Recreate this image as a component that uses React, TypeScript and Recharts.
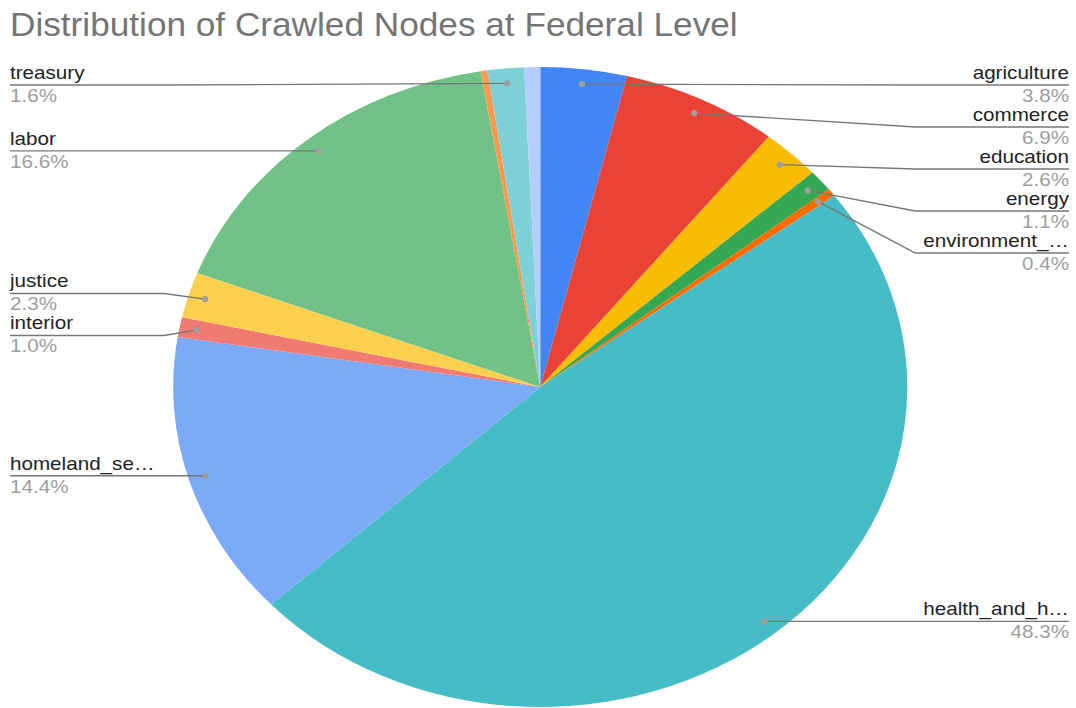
import { PieChart, Pie, Cell } from "recharts";

const categories = [
  "agriculture",
  "commerce",
  "education",
  "energy",
  "environment_…",
  "health_and_h…",
  "homeland_se…",
  "interior",
  "justice",
  "labor",
  "state",
  "treasury",
  "veterans_affairs",
];
const shares = [3.8, 6.9, 2.6, 1.1, 0.4, 48.3, 14.4, 1.0, 2.3, 16.6, 0.3, 1.6, 0.7];
const sliceColors = [
  "#4285f4",
  "#ea4335",
  "#fbbc04",
  "#34a853",
  "#ff6d01",
  "#46bdc6",
  "#7baaf7",
  "#f07b72",
  "#fcd04f",
  "#71c287",
  "#ff994d",
  "#7ed1d7",
  "#b3cefb",
];
// slices google left without a label (no room at the top)
const unlabeled = ["state", "veterans_affairs"];

const pieData = categories.map((name, i) => ({ name, value: shares[i] }));

// the reference screenshot is stretched horizontally
const SX = 1.147;
const W = 938;
const H = 708;
const CX = 471;
const CY = 387;
const R = 320;

const FONT = "'Liberation Sans', Arial, sans-serif";
const GAP = 42;
const MIN_Y = 85;
const MAX_Y = 690;
const RAD = Math.PI / 180;

type Item = { i: number; y: number };

function spread(sorted: Item[]) {
  let groups = sorted.map((it) => ({ items: [it], start: Math.max(MIN_Y, it.y) }));
  let changed = true;
  while (changed) {
    changed = false;
    for (let k = 1; k < groups.length; k++) {
      const prev = groups[k - 1];
      if (groups[k].start < prev.start + prev.items.length * GAP) {
        const items = prev.items.concat(groups[k].items);
        const mean = items.reduce((s, it) => s + it.y, 0) / items.length;
        let start = mean - ((items.length - 1) * GAP) / 2;
        start = Math.min(Math.max(start, MIN_Y), MAX_Y - (items.length - 1) * GAP);
        groups.splice(k - 1, 2, { items, start });
        changed = true;
        break;
      }
    }
  }
  const out: Record<number, number> = {};
  groups.forEach((g) => g.items.forEach((it, j) => (out[it.i] = g.start + j * GAP)));
  return out;
}

function lineYs(cx: number, cy: number, r: number) {
  const total = shares.reduce((a, b) => a + b, 0);
  const dotR = r - 15;
  const left: Item[] = [];
  const right: Item[] = [];
  let acc = 0;
  shares.forEach((v, i) => {
    const mid = 90 - ((acc + v / 2) / total) * 360;
    acc += v;
    if (unlabeled.includes(categories[i])) return;
    const x = cx + dotR * Math.cos(mid * RAD);
    const y = cy - dotR * Math.sin(mid * RAD);
    (x >= cx ? right : left).push({ i, y });
  });
  left.sort((a, b) => a.y - b.y);
  right.sort((a, b) => a.y - b.y);
  return { ...spread(left), ...spread(right) };
}

const renderLabel = (props: any) => {
  const { cx, cy, midAngle, outerRadius, index, percent, name } = props;
  if (unlabeled.includes(name)) return null;
  const ys = lineYs(cx, cy, outerRadius);
  const dotR = outerRadius - 15;
  const dx = cx + dotR * Math.cos(midAngle * RAD);
  const dy = cy - dotR * Math.sin(midAngle * RAD);
  const isRight = dx >= cx;
  const ly = ys[index];
  const elbowX = isRight ? cx + outerRadius + 7 : cx - outerRadius - 8;
  const textX = isRight ? 932 : 8.7;
  const anchor = isRight ? "end" : "start";
  return (
    <g>
      <path
        d={`M${dx},${dy}L${elbowX},${ly}L${textX},${ly}`}
        fill="none"
        stroke="#777"
        strokeWidth={1.3}
      />
      <ellipse cx={dx} cy={dy} rx={2.7} ry={3.1} fill="#9e9e9e" />
      <text x={textX} y={ly - 6} textAnchor={anchor} fontSize={18} fill="#222" fontFamily={FONT}>
        {name}
      </text>
      <text x={textX} y={ly + 17} textAnchor={anchor} fontSize={18} fill="#9e9e9e" fontFamily={FONT}>
        {(percent * 100).toFixed(1)}%
      </text>
    </g>
  );
};

export default function App() {
  return (
    <div style={{ position: "absolute", left: 0, top: 0, width: 1076, height: 708, background: "#fff", overflow: "hidden" }}>
      <div
        style={{
          position: "absolute",
          left: 10,
          top: 7,
          fontFamily: FONT,
          fontSize: 34,
          lineHeight: 1,
          color: "#757575",
          whiteSpace: "nowrap",
          transform: "scaleX(1.035)",
          transformOrigin: "0 0",
        }}
      >
        Distribution of Crawled Nodes at Federal Level
      </div>
      <div style={{ position: "absolute", left: 0, top: 0, width: W, height: H, transform: `scaleX(${SX})`, transformOrigin: "0 0" }}>
        <PieChart width={W} height={H} margin={{ top: 0, right: 0, bottom: 0, left: 0 }}>
          <Pie
            data={pieData}
            dataKey="value"
            nameKey="name"
            cx={CX}
            cy={CY}
            outerRadius={R}
            startAngle={90}
            endAngle={-270}
            stroke="none"
            label={renderLabel}
            labelLine={false}
            isAnimationActive={false}
          >
            {pieData.map((d, i) => (
              <Cell key={d.name} fill={sliceColors[i]} />
            ))}
          </Pie>
        </PieChart>
      </div>
    </div>
  );
}
